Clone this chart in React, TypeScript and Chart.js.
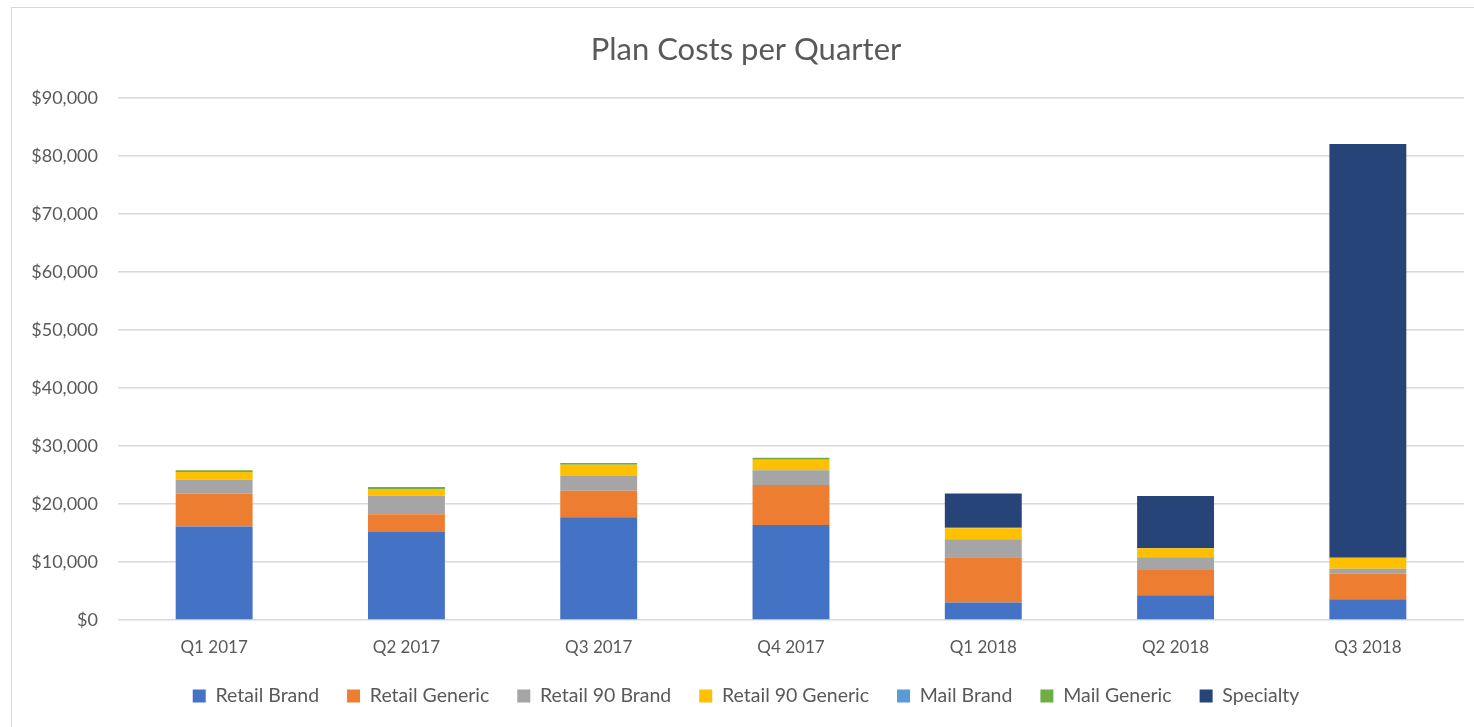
import React, { useEffect, useRef } from "react";
import { Chart, registerables } from "chart.js";

Chart.register(...registerables);

const quarters = ["Q1 2017", "Q2 2017", "Q3 2017", "Q4 2017", "Q1 2018", "Q2 2018", "Q3 2018"];
const retailBrand = [16100, 15170, 17710, 16380, 3000, 4260, 3570];
const retailGeneric = [5680, 3050, 4580, 6900, 7830, 4360, 4410];
const retail90Brand = [2410, 3210, 2540, 2530, 3100, 2190, 860];
const retail90Generic = [1330, 1160, 1950, 1830, 1900, 1550, 1900];
const mailBrand = [0, 0, 0, 0, 0, 0, 0];
const mailGeneric = [290, 340, 290, 340, 60, 0, 0];
const specialty = [0, 0, 0, 0, 5910, 9020, 71330];
const yTicks = [0, 10000, 20000, 30000, 40000, 50000, 60000, 70000, 80000, 90000];

const FONT = "Lato, 'Open Sans', sans-serif";
const TEXT = "#595959";

export default function App() {
  const ref = useRef<HTMLCanvasElement | null>(null);
  useEffect(() => {
    if (!ref.current) return;
    const mk = (label: string, data: number[], color: string) => ({
      label,
      data,
      backgroundColor: color,
      borderWidth: 0,
      barPercentage: 0.4,
      categoryPercentage: 1,
    });
    const chart = new Chart(ref.current, {
      type: "bar",
      data: {
        labels: quarters,
        datasets: [
          mk("Retail Brand", retailBrand, "#4472C4"),
          mk("Retail Generic", retailGeneric, "#ED7D31"),
          mk("Retail 90 Brand", retail90Brand, "#A5A5A5"),
          mk("Retail 90 Generic", retail90Generic, "#FFC000"),
          mk("Mail Brand", mailBrand, "#5B9BD5"),
          mk("Mail Generic", mailGeneric, "#70AD47"),
          mk("Specialty", specialty, "#264478"),
        ],
      },
      options: {
        animation: false,
        responsive: false,
        maintainAspectRatio: false,
        layout: { padding: { left: 28, right: 10, top: 0, bottom: 11.25 } },
        plugins: {
          title: {
            display: true,
            text: "Plan Costs per Quarter",
            color: TEXT,
            font: { family: FONT, size: 31, weight: "normal" },
            padding: { top: 31.5, bottom: 29.3 },
          },
          legend: {
            position: "bottom",
            labels: {
              color: TEXT,
              font: { family: FONT, size: 19.5 },
              boxWidth: 13,
              boxHeight: 13,
              padding: 28,
            },
          },
          tooltip: { enabled: false },
        },
        scales: {
          x: {
            stacked: true,
            grid: { display: false },
            border: { display: false },
            ticks: { color: TEXT, font: { family: FONT, size: 17 }, padding: 9 },
            afterFit: (s: any) => {
              s.height = 38.25;
            },
          },
          y: {
            stacked: true,
            min: 0,
            max: 90000,
            afterBuildTicks: (s: any) => {
              s.ticks = yTicks.map((v) => ({ value: v }));
            },
            afterFit: (s: any) => {
              s.width = 90;
            },
            grid: { color: "#d9d9d9", lineWidth: 1.5, drawTicks: false },
            border: { display: false },
            ticks: {
              color: TEXT,
              font: { family: FONT, size: 18 },
              padding: 20,
              callback: (v: any) => "$" + Number(v).toLocaleString("en-US"),
            },
          },
        },
      },
    });
    return () => chart.destroy();
  }, []);
  return (
    <div style={{ position: "absolute", left: 0, top: 0, width: 1474, height: 727, background: "#fff", overflow: "hidden" }}>
      <div style={{ position: "absolute", left: 11, top: 7, width: 1500, height: 760, border: "1px solid #d9d9d9", boxSizing: "border-box" }} />
      <canvas ref={ref} width={1474} height={727} style={{ position: "absolute", left: 0, top: 0 }} />
    </div>
  );
}
